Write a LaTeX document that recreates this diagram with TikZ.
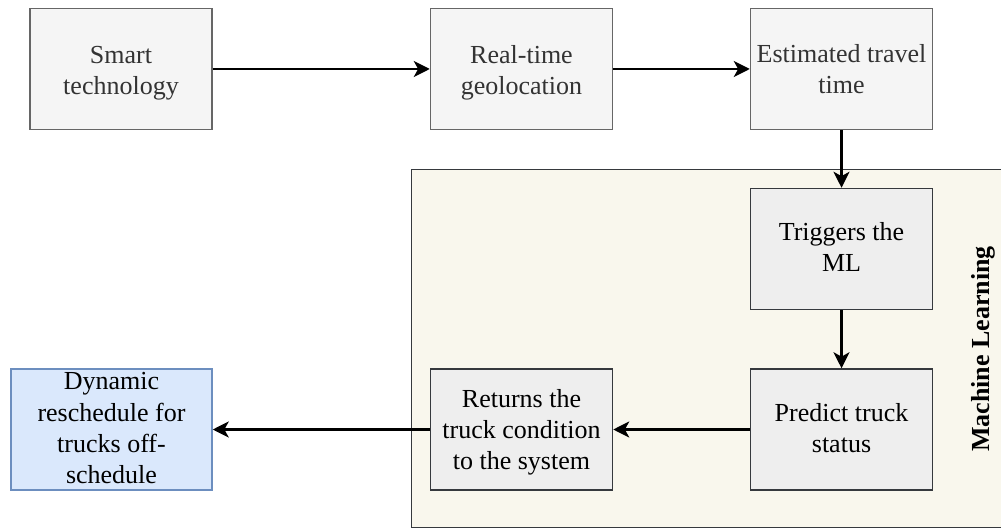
\documentclass[tikz,border=0pt]{standalone}
\usepackage{fontspec}
\setmainfont{LiberationSerif}[Extension=.ttf, UprightFont=*-Regular, BoldFont=*-Bold]
\usetikzlibrary{arrows.meta}
\definecolor{lightfill}{HTML}{F5F5F5}
\definecolor{lightline}{HTML}{666666}
\definecolor{lighttext}{HTML}{333333}
\definecolor{mlfill}{HTML}{F9F7ED}
\definecolor{darkline}{HTML}{36393D}
\definecolor{innerfill}{HTML}{EEEEEE}
\definecolor{bluefill}{HTML}{DAE8FC}
\definecolor{blueline}{HTML}{6C8EBF}
% centred lines of a box label; zero size so the box keeps its own height,
% lowered by #1 (3.25pt puts the block's middle on the box centre)
\newcommand\boxlines[2]{\raisebox{-#1}[0pt][0pt]{\begin{tabular}{@{}c@{}}#2\end{tabular}}}
\tikzset{
  box/.style={rectangle, minimum width=91pt, minimum height=60.5pt, inner sep=0pt,
    line width=0.75pt, font=\rmfamily\fontsize{13}{15.6}\selectfont},
  topbox/.style={box, draw=lightline, fill=lightfill, text=lighttext},
  mlbox/.style={box, draw=darkline, fill=innerfill, text=black},
  outbox/.style={box, draw=blueline, fill=bluefill, text=black, minimum width=100.5pt},
  flow/.style={draw=black, line width=1.1pt, -{Stealth[length=8pt, width=8pt, inset=2.2pt]}},
  group/.style={draw=darkline, fill=mlfill, line width=0.75pt}
}
\begin{document}
\begin{tikzpicture}[x=0.5pt, y=-0.5pt]
  \useasboundingbox (0,0) rectangle (1001,529);
  \clip (0,0) rectangle (1001,529);
  % Machine Learning group (runs past the right edge)
  \coordinate (gtl) at (411.5,169.5);
  \coordinate (gbr) at (1020,527.5);
  \path[group] (gtl) rectangle (gbr);
  \node[rotate=90, font=\rmfamily\bfseries\fontsize{13}{15}\selectfont] (mltitle) at (983,349) {Machine Learning};
  % top row
  \node[topbox] (smart) at (121,69) {\boxlines{4.75pt}{Smart\\technology}};
  \node[topbox] (geo) at (521.5,69) {\boxlines{4.75pt}{Real-time\\geolocation}};
  \node[topbox] (eta) at (841.5,69) {\boxlines{4.5pt}{Estimated travel\\time}};
  % inside the group
  \node[mlbox] (trig) at (841.5,249) {\boxlines{3.5pt}{Triggers the\\ML}};
  \node[mlbox] (pred) at (841.5,429.5) {\boxlines{3.5pt}{Predict truck\\status}};
  \node[mlbox] (ret) at (521.5,429.5) {\boxlines{4.25pt}{Returns the\\truck condition\\to the system}};
  % result
  \node[outbox] (dyn) at (111.5,429.5) {\boxlines{3.5pt}{Dynamic\\reschedule for\\trucks off-\\schedule}};
  % connectors
  \draw[flow] (smart.east) -- (geo.west);
  \draw[flow] (geo.east) -- (eta.west);
  \draw[flow] (eta.south) -- (trig.north);
  \draw[flow] (trig.south) -- (pred.north);
  \draw[flow] (pred.west) -- (ret.east);
  \draw[flow] (ret.west) -- (dyn.east);
\end{tikzpicture}
\end{document}
